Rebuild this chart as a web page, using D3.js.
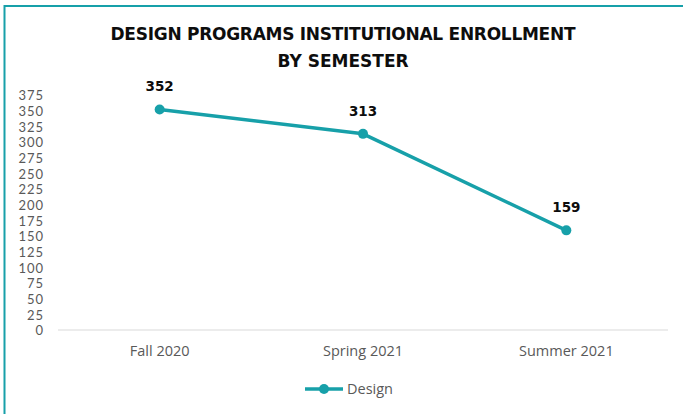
<!DOCTYPE html>
<html><head><meta charset="utf-8">
<script src="https://cdn.jsdelivr.net/npm/d3@7"></script>
<style>body{margin:0;background:#fff}svg{display:block}</style>
</head><body>
<svg id="c" width="683" height="414"></svg>
<script>
const categories = ["Fall 2020", "Spring 2021", "Summer 2021"];
const designValues = [352, 313, 159];
const yTicks = [0,25,50,75,100,125,150,175,200,225,250,275,300,325,350,375];
const seriesName = "Design";
const titleLines = ["DESIGN PROGRAMS INSTITUTIONAL ENROLLMENT", "BY SEMESTER"];

const color = "#17a0a9";
const labelFont = "'Open Sans', Lato, sans-serif";
const svg = d3.select("#c");

// frame
svg.append("line").attr("x1",4.5).attr("x2",4.5).attr("y1",5).attr("y2",414).attr("stroke",color).attr("stroke-width",2);
svg.append("line").attr("x1",4).attr("x2",683).attr("y1",6).attr("y2",6).attr("stroke",color).attr("stroke-width",2);

// title
svg.append("g").selectAll("text").data(titleLines).join("text")
  .attr("x",343).attr("y",(d,i)=>40+i*27)
  .attr("text-anchor","middle")
  .attr("font-family","'DejaVu Sans', sans-serif").attr("font-weight","bold")
  .attr("font-size",17).attr("fill","#0d0d0d")
  .attr("textLength",(d,i)=> i===0 ? 465 : null)
  .text(d=>d);

const x = d3.scaleBand().domain(categories).range([58,668]);
const y = d3.scaleLinear().domain([0,375]).range([330,95]);

// baseline
svg.append("line").attr("x1",58).attr("x2",668).attr("y1",y(0)).attr("y2",y(0)).attr("stroke","#d9d9d9").attr("stroke-width",1);

// y axis
const ya = svg.append("g").attr("transform","translate(44,0)")
  .call(d3.axisLeft(y).tickValues(yTicks).tickSize(0).tickPadding(0));
ya.select(".domain").remove();
ya.selectAll("text").attr("font-family","Lato, sans-serif").attr("font-size",13)
  .attr("letter-spacing","1px").attr("fill","#595959").attr("dy","0.36em");

// x axis
const xa = svg.append("g").attr("transform",`translate(0,${y(0)})`)
  .call(d3.axisBottom(x).tickSize(0).tickPadding(16));
xa.select(".domain").remove();
xa.selectAll("text").attr("font-family",labelFont).attr("font-size",14.5).attr("fill","#595959");

const cx = d => x(d) + x.bandwidth()/2;
const pts = categories.map((c,i)=>({c, v: designValues[i]}));

svg.append("path").datum(pts)
  .attr("d", d3.line().x(d=>cx(d.c)).y(d=>y(d.v)))
  .attr("fill","none").attr("stroke",color).attr("stroke-width",3.5).attr("stroke-linejoin","round");

svg.append("g").selectAll("circle").data(pts).join("circle")
  .attr("cx",d=>cx(d.c)).attr("cy",d=>y(d.v)).attr("r",5).attr("fill",color);

svg.append("g").selectAll("text").data(pts).join("text")
  .attr("x",d=>cx(d.c)).attr("y",d=>y(d.v)-18)
  .attr("text-anchor","middle")
  .attr("font-family","'DejaVu Sans', sans-serif").attr("font-weight","bold")
  .attr("font-size",13.5).attr("fill","#0d0d0d")
  .text(d=>d.v);

// legend
const lg = svg.append("g").attr("transform","translate(305,389)");
lg.append("line").attr("x1",0).attr("x2",38).attr("y1",0).attr("y2",0).attr("stroke",color).attr("stroke-width",3.5);
lg.append("circle").attr("cx",19).attr("cy",0).attr("r",5).attr("fill",color);
lg.append("text").attr("x",42).attr("y",0).attr("dy","0.36em")
  .attr("font-family",labelFont).attr("font-size",14.5).attr("fill","#595959")
  .text(seriesName);
</script>
</body></html>
